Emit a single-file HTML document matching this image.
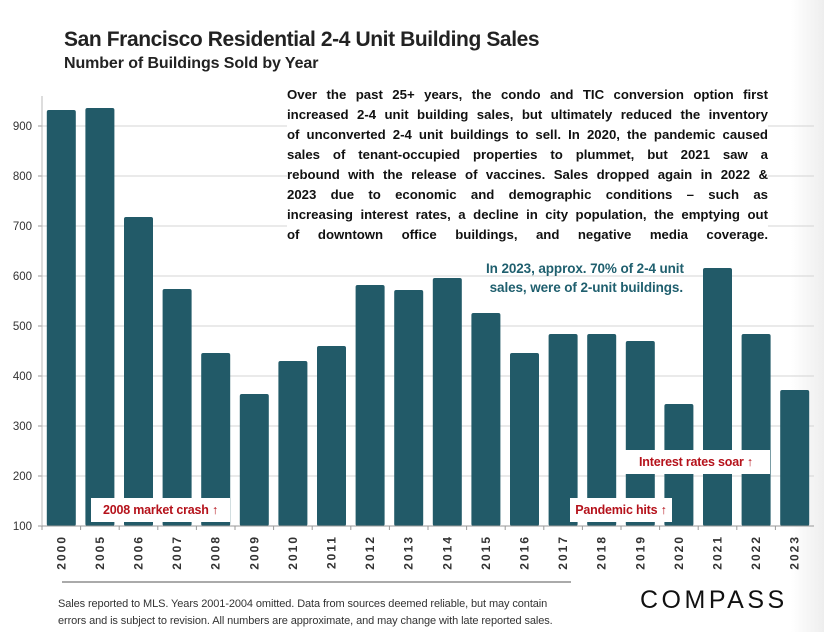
<!DOCTYPE html>
<html><head><meta charset="utf-8"><style>
body{margin:0;width:824px;height:632px;overflow:hidden;background:#fff;font-family:"Liberation Sans",sans-serif;}
#wrap{position:relative;width:824px;height:632px;background:linear-gradient(to right,#fff 96%,#eee 100%);}
.t{position:absolute;white-space:nowrap;}
.para div{text-align:justify;text-align-last:justify;height:20px;}
.ann{position:absolute;background:#fff;color:#b5121b;font-weight:bold;font-size:12.5px;padding:0;display:flex;align-items:center;justify-content:center;letter-spacing:-0.2px;}
</style></head><body>
<div id="wrap">
<div class="t" style="left:64px;top:28px;font-size:21px;font-weight:bold;color:#222;letter-spacing:-0.4px;">San Francisco Residential 2-4 Unit Building Sales</div>
<div class="t" style="left:64px;top:55px;font-size:16px;font-weight:bold;color:#222;letter-spacing:-0.1px;">Number of Buildings Sold by Year</div>
<svg id="chart" width="824" height="632" style="position:absolute;left:0;top:0"></svg>
<div class="t para" style="left:287px;top:85px;width:481px;font-size:13.2px;font-weight:bold;color:#111;letter-spacing:0px;line-height:20px;background:#fff;">
<div>Over the past 25+ years, the condo and TIC conversion option first</div>
<div>increased 2-4 unit building sales, but ultimately reduced the inventory</div>
<div>of unconverted 2-4 unit buildings to sell. In 2020, the pandemic caused</div>
<div>sales of tenant-occupied properties to plummet, but 2021 saw a</div>
<div>rebound with the release of vaccines. Sales dropped again in 2022 &amp;</div>
<div>2023 due to economic and demographic conditions – such as</div>
<div>increasing interest rates, a decline in city population, the emptying out</div>
<div>of downtown office buildings, and negative media coverage.</div>
</div>
<div class="t" style="left:486px;top:259px;font-size:13.5px;font-weight:bold;color:#1f5f6e;line-height:19px;letter-spacing:-0.1px;">In 2023, approx. 70% of 2-4 unit<br>&nbsp;sales, were of 2-unit buildings.</div>
<div class="ann" style="left:91px;top:498px;width:139px;height:24px;">2008 market crash ↑</div>
<div class="ann" style="left:570px;top:498px;width:102px;height:24px;">Pandemic hits ↑</div>
<div class="ann" style="left:622px;top:450px;width:148px;height:24px;">Interest rates soar ↑</div>
<div style="position:absolute;left:62px;top:581px;width:509px;height:2px;background:#aaa;"></div>
<div class="t" style="left:58px;top:596px;font-size:11px;color:#333;line-height:17px;letter-spacing:-0.1px;">Sales reported to MLS. Years 2001-2004 omitted. Data from sources deemed reliable, but may contain<br>errors and is subject to revision. All numbers are approximate, and may change with late reported sales.</div>
<div class="t" style="left:640px;top:586px;font-size:25px;color:#111;letter-spacing:3.5px;">COMPASS</div>
</div>
<script>
const categories=["2000","2005","2006","2007","2008","2009","2010","2011","2012","2013","2014","2015","2016","2017","2018","2019","2020","2021","2022","2023"];
const sales=[932,936,718,574,446,364,430,460,582,572,596,526,446,484,484,470,344,616,484,372];
const yTicks=[100,200,300,400,500,600,700,800,900];
const NS="http://www.w3.org/2000/svg";
const svg=document.getElementById('chart');
const L=42,R=814,Y0=526,scale=0.5,yMin=100;
const y=v=>Y0-(v-yMin)*scale;
const band=(R-L)/categories.length;
const x=i=>L+band*i+band/2;
function mk(t,a){const e=document.createElementNS(NS,t);for(const k in a)e.setAttribute(k,a[k]);svg.appendChild(e);return e;}
yTicks.forEach(v=>{
  if(v>yMin){const g=mk('line',{x1:L,x2:R,y1:y(v),y2:y(v),stroke:'#d4d4d4','stroke-width':1});
  
  }
  const tk=mk('line',{x1:L-4,x2:L,y1:y(v),y2:y(v),stroke:'#999'});
  
  
  const t=mk('text',{x:L-10,y:y(v)+4,'text-anchor':'end','font-size':11.5,fill:'#333','font-family':'Liberation Sans, sans-serif'});
  t.textContent=v;
  
  
});
const ya=mk('line',{x1:L,x2:L,y1:96,y2:Y0,stroke:'#bbb'});


categories.forEach((c,i)=>{
  const b=mk('rect',{x:x(i)-14.5,y:y(sales[i]),width:29,height:Y0-y(sales[i]),fill:'#225a68',rx:2});
  
  
  const tk=mk('line',{x1:L+band*i,x2:L+band*i,y1:Y0,y2:Y0+4,stroke:'#999'});
  
  
  const t=mk('text',{x:0,y:0,transform:`translate(${x(i)+4},${Y0+9}) rotate(-90)`,'text-anchor':'end','font-size':12,'font-weight':'bold',fill:'#333','font-family':'Liberation Sans, sans-serif','letter-spacing':2});
  t.textContent=c;
  
  
});
const xa=mk('line',{x1:L,x2:R,y1:Y0,y2:Y0,stroke:'#999'});


</script>
</body></html>
